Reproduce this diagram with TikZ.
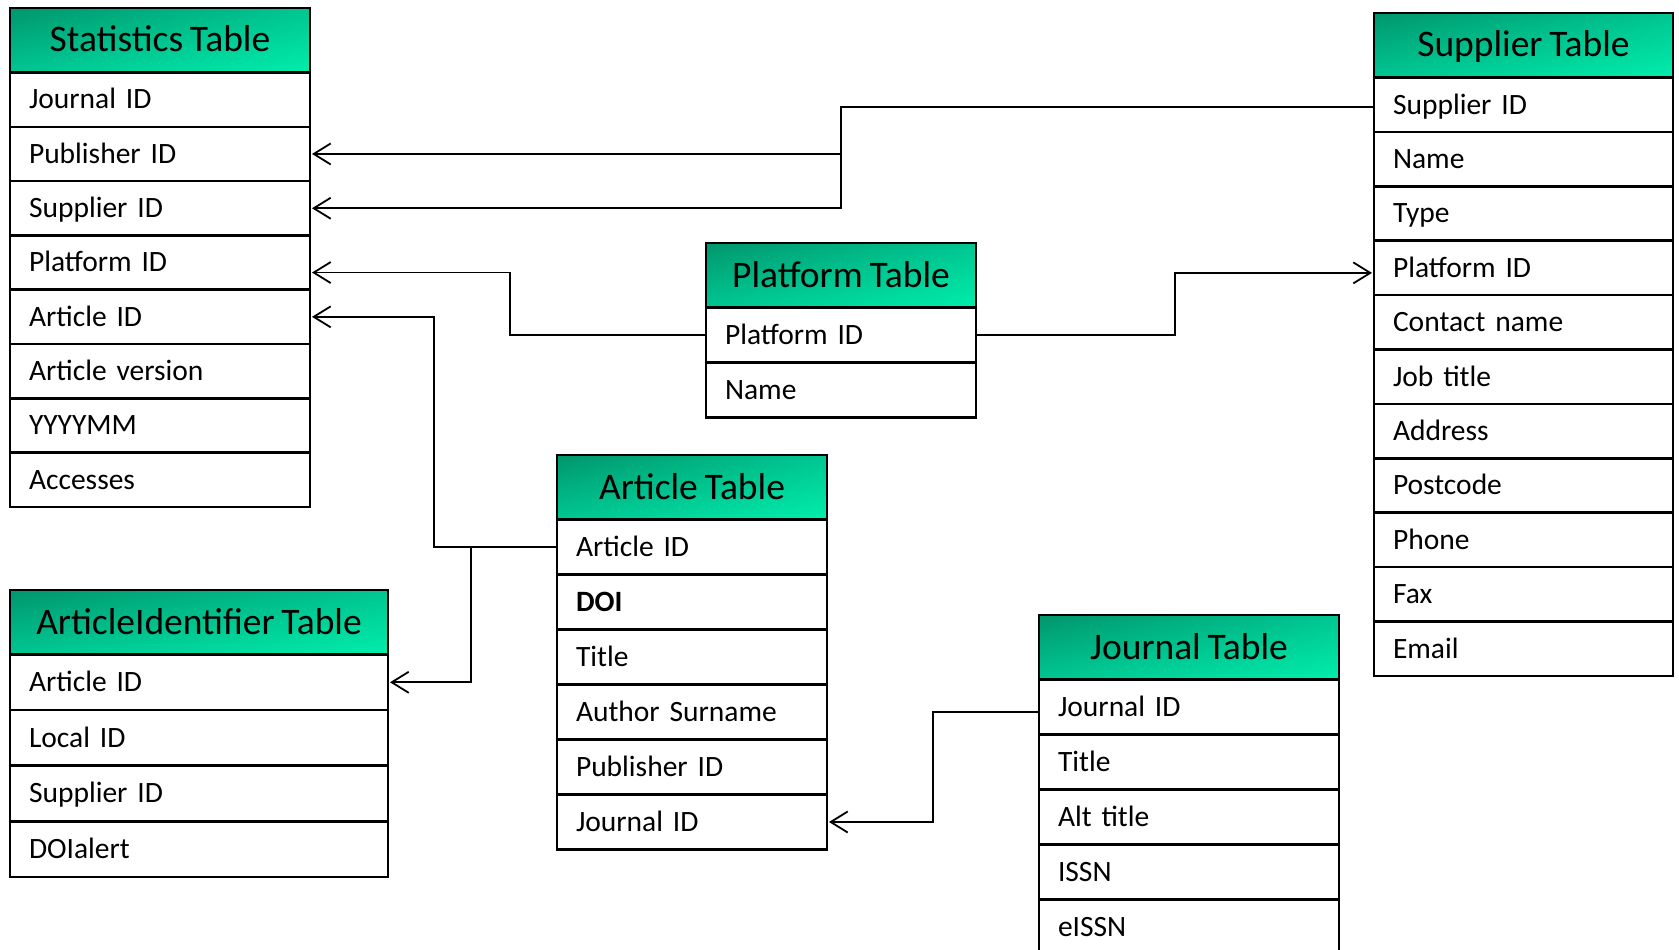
\documentclass[tikz,border=0pt]{standalone}
\usepackage{fontspec}
\setmainfont{Carlito}[WordSpace=0.8]
\usetikzlibrary{positioning,arrows.meta,shadings}

\definecolor{headdark}{RGB}{0,150,108}
\definecolor{headmid}{RGB}{0,198,146}
\definecolor{headlight}{RGB}{0,238,172}

\tikzset{
	tablehead/.style={draw, line width=2.6pt, inner sep=0pt, outer sep=0pt, anchor=north west,
		minimum height=64.5pt, upper left=headdark, upper right=headmid, lower left=headmid,
		lower right=headlight, font=\fontsize{37.5}{41}\selectfont, text height=23.5pt, text depth=0pt},
	tablefield/.style={draw, line width=2.6pt, inner xsep=19pt, inner ysep=0pt, outer sep=0pt,
		align=left, font=\fontsize{29.5}{34}\selectfont, text height=18.6pt, text depth=0pt},
	link/.style={line width=1.8pt, -{Straight Barb[length=17pt,width=21pt]}, shorten >=2pt},
}

% [row height] name, corner, width, title, fields
\newcommand{\dbtable}[6][54.5]{%
	\pgfmathsetmacro\fieldw{#4-38}
	\node[tablehead, minimum width=#4pt] (#2-0) at #3 {#5};
	\foreach \f [count=\i, remember=\i as \j (initially 0)] in {#6}
		\node[tablefield, minimum height=#1pt, text width=\fieldw pt, below=0pt of #2-\j] (#2-\i) {\f};
}

\begin{document}
\begin{tikzpicture}[x=1pt,y=-1pt]
	\useasboundingbox (0,0) rectangle (1679,950);

	\dbtable[54.3]{stat}{(10,8)}{300}{Statistics Table}{Journal ID, Publisher ID, Supplier ID, Platform ID, Article ID, Article version, YYYYMM, Accesses}
	\dbtable[54.4]{sup}{(1374,13)}{299}{Supplier Table}{Supplier ID, Name, Type, Platform ID, Contact name, Job title, Address, Postcode, Phone, Fax, Email}
	\dbtable[55]{plat}{(706,243)}{270}{Platform Table}{Platform ID, Name}
	\dbtable[55]{art}{(557,455)}{270}{Article Table}{Article ID, \textbf{DOI}, Title, Author Surname, Publisher ID, Journal ID}
	\dbtable[55.6]{aid}{(10,590)}{378}{ArticleIdentifier Table}{Article ID, Local ID, Supplier ID, DOIalert}
	\dbtable[55]{jour}{(1039,615)}{300}{Journal Table}{Journal ID, Title, Alt title, ISSN, eISSN}

	% links
	\draw[link] ([yshift=-2pt]sup-1.west) -| ([xshift=531pt]stat-3.east) -- (stat-3.east);
	\draw[link] ([xshift=531pt]stat-2.east) -- (stat-2.east);
	\draw[link] (plat-1.west) -- ++(-196,0) |- ([yshift=-10pt]stat-4.east);
	\draw[link] (plat-1.east) -- ++(199,0) |- ([yshift=-5pt]sup-4.west);
	\draw[link] (art-1.west) -- ++(-123,0) |- (stat-5.east);
	\draw[link] (art-1.west) -- ++(-86,0) |- (aid-1.east);
	\draw[link] ([yshift=-5pt]jour-1.west) -- ++(-106,0) |- (art-6.east);
\end{tikzpicture}
\end{document}
